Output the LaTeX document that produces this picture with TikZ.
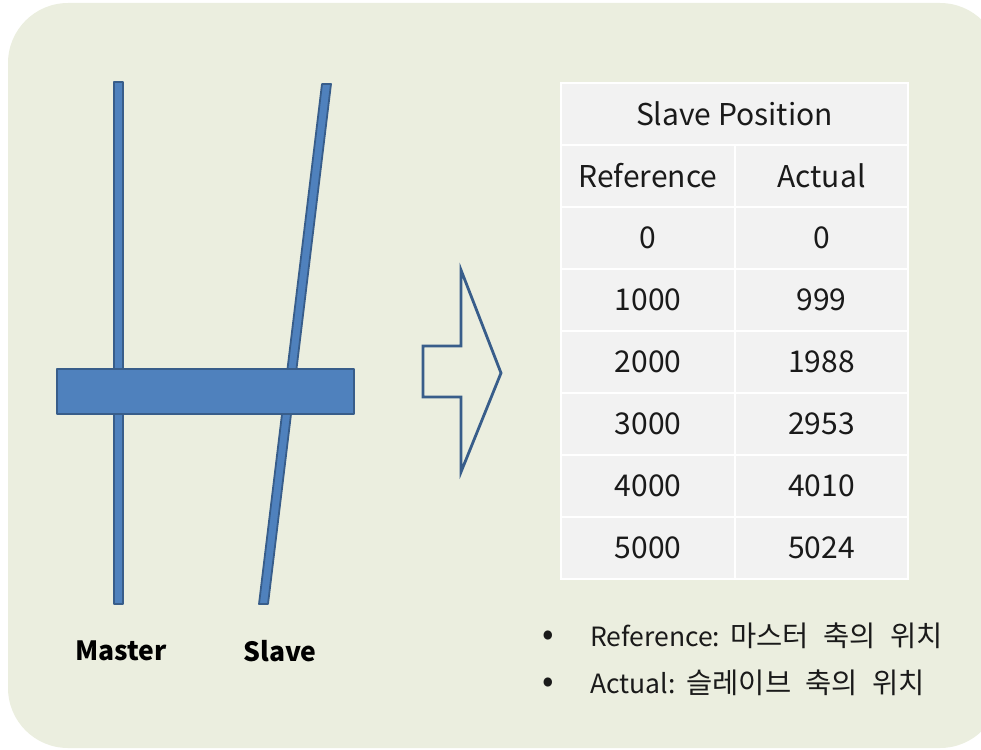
\documentclass[tikz,border=0pt]{standalone}
\usepackage{fontspec}
\setmainfont{Noto Sans CJK KR}
\definecolor{bgc}{HTML}{EBEEDF}
\definecolor{barfill}{HTML}{4F81BD}
\definecolor{bardraw}{HTML}{385D8A}
\definecolor{cellc}{HTML}{F2F2F2}
\definecolor{txt}{HTML}{1A1A1A}
\newcommand{\kr}[1]{{\fontsize{28.5}{30}\selectfont #1}}
\begin{document}
\begin{tikzpicture}[x=1pt,y=-1pt,
  bar/.style={fill=barfill,draw=bardraw,line width=1.8pt,line join=round},
  cell/.style={fill=cellc,draw=white,line width=1.6pt,minimum height=62pt,text=txt,font=\fontsize{30}{34}\selectfont,inner sep=0pt},
  lbl/.style={font=\bfseries\fontsize{26.5}{30}\selectfont,text=black},
  note/.style={font=\fontsize{26.5}{30}\selectfont,text=txt,anchor=west,inner sep=0pt},
  bul/.style={font=\fontsize{34}{34}\selectfont,text=txt,inner sep=0pt}]
\useasboundingbox (0,0) rectangle (981,749);
\fill[bgc,rounded corners=60pt] (8,3) rectangle (1000,748);
% vertical bars
\draw[bar] (114,82) rectangle (123,604);
\draw[bar] (322,84) -- (331,84) -- (268,604) -- (259,604) -- cycle;
% horizontal bar
\draw[bar] (57,369) rectangle (354,414);
% arrow
\draw[bardraw,line width=2.8pt,line join=miter] (423,346) -- (461,346) -- (461,270) -- (501,373) -- (461,472) -- (461,397) -- (423,397) -- cycle;
% labels
\node[lbl] (master) at (121,651) {Master};
\node[lbl] (slave) at (280,651) {Slave};
% table
\node[cell,minimum width=347pt] (h) at (734.5,114) {Slave Position};
\node[cell,minimum width=174pt] (r0) at (648,176) {Reference};
\node[cell,minimum width=173pt] (a0) at (821.5,176) {Actual};
\foreach \i/\r/\a in {1/0/0,2/1000/999,3/2000/1988,4/3000/2953,5/4000/4010,6/5000/5024}{
  \node[cell,minimum width=174pt] (r\i) at (648,176+62*\i) {\r};
  \node[cell,minimum width=173pt] (a\i) at (821.5,176+62*\i) {\a};
}
% notes
\node[bul] (b1) at (548,638) {•};
\node[note] (n1) at (590,636) {Reference:\hspace{10pt}\kr{마스터\hspace{8pt} 축의\hspace{8pt} 위치}};
\node[bul] (b2) at (548,685) {•};
\node[note] (n2) at (590,683) {Actual:\hspace{3pt} \kr{슬레이브\hspace{8pt} 축의\hspace{8pt} 위치}};
\end{tikzpicture}
\end{document}
